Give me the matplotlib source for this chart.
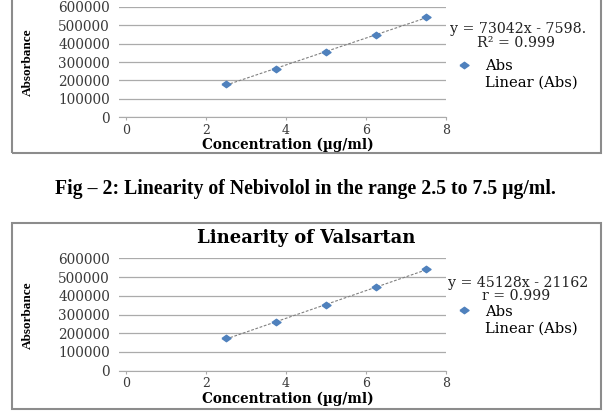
import numpy as np
import matplotlib
matplotlib.use("Agg")
import matplotlib.pyplot as plt
from matplotlib.patches import Rectangle
from matplotlib.lines import Line2D

# data
conc = [2.5, 3.75, 5.0, 6.25, 7.5]
abs_nebivolol = [179000, 262000, 354000, 448000, 542000]
abs_valsartan = [173000, 258000, 351000, 445000, 541000]
yticks = [0, 100000, 200000, 300000, 400000, 500000, 600000]
xticks = [0, 2, 4, 6, 8]

W, H = 610, 412
BLUE = "#4F81BD"
SERIF = "DejaVu Serif"

fig = plt.figure(figsize=(W / 100, H / 100), dpi=100)


def fx(px):
    return px / W


def fy(py):
    return 1 - py / H


# wide diamond like the stretched Excel marker
diamond = [(-1.4, 0), (0, 1), (1.4, 0), (0, -1), (-1.4, 0)]


def draw_chart(ax, y, eq1, eq2, eq_y, leg_y, leg_gap, xlabel_y, ylabel_y):
    ax.set_xlim(-0.175, 8)
    ax.set_ylim(0, 600000)
    ax.set_xticks(xticks)
    ax.set_yticks(yticks)
    ax.set_yticklabels([str(v) for v in yticks])
    ax.grid(axis="y", color="#ababab", lw=0.9)
    ax.set_axisbelow(True)
    for s in ["top", "right", "left"]:
        ax.spines[s].set_visible(False)
    ax.spines["bottom"].set_color("#ababab")
    ax.tick_params(axis="y", length=0, pad=6.5, labelsize=9.8, labelcolor="#3a3a3a")
    ax.tick_params(axis="x", length=2, color="#ababab", pad=2.8, labelsize=9,
                   labelcolor="#3a3a3a")
    for lab in ax.get_xticklabels() + ax.get_yticklabels():
        lab.set_fontfamily(SERIF)

    # linear trendline from a least squares fit
    m, b = np.polyfit(conc, y, 1)
    xs = np.array([conc[0], conc[-1]])
    ax.plot(xs, m * xs + b, color="#808080", lw=0.8, ls=(0, (2.5, 1.5)), zorder=2)
    sc, = ax.plot(conc, y, ls="none", marker=diamond, ms=6.5, color=BLUE,
                  mec=BLUE, zorder=3)

    fig.text(fx(518), fy(eq_y[0]), eq1, ha="center", va="center",
             family=SERIF, fontsize=10.2, color="#222222")
    fig.text(fx(516), fy(eq_y[1]), eq2, ha="center", va="center",
             family=SERIF, fontsize=10.2, color="#222222")

    blank = Line2D([], [], color="none")
    ax.legend([sc, blank], ["Abs", "Linear (Abs)"], loc="upper left",
              bbox_to_anchor=(fx(456), fy(leg_y)), bbox_transform=fig.transFigure,
              frameon=False, borderpad=0, borderaxespad=0, handlelength=1.1,
              handletextpad=0.9, labelspacing=leg_gap,
              prop={"family": SERIF, "size": 10.6})

    fig.text(fx(288), fy(xlabel_y), "Concentration (µg/ml)", ha="center",
             va="center", family=SERIF, fontweight="bold", fontsize=9.8)
    fig.text(fx(28), fy(ylabel_y), "Absorbance", ha="center", va="center",
             rotation=90, family="Liberation Serif", fontweight="bold", fontsize=9.5)


# top chart (Nebivolol)
ax1 = fig.add_axes([fx(119), fy(117.3), 327 / W, (117.3 - 6.7) / H])
draw_chart(ax1, abs_nebivolol, "y = 73042x - 7598.", "R² = 0.999",
           (29.3, 42.7), 59.5, 0.14, 144.5, 62)
fig.patches.append(Rectangle((fx(11.7), fy(153)), (601 - 11.7) / W, 170 / H,
                             transform=fig.transFigure, fill=False,
                             ec="#8c8c8c", lw=1.5))

fig.text(0.5, fy(189), "Fig – 2: Linearity of Nebivolol in the range 2.5 to 7.5 µg/ml.",
         ha="center", va="center", family="Liberation Serif", fontweight="bold",
         fontsize=14.2)

# bottom chart (Valsartan)
ax2 = fig.add_axes([fx(119), fy(370.7), 327 / W, (370.7 - 258.3) / H])
draw_chart(ax2, abs_valsartan, "y = 45128x - 21162", "r = 0.999",
           (283.0, 295.8), 304.5, 0.24, 398.5, 315)
fig.text(fx(306), fy(238.3), "Linearity of Valsartan", ha="center", va="center",
         family=SERIF, fontweight="bold", fontsize=13)
fig.patches.append(Rectangle((fx(11.7), fy(409)), (601 - 11.7) / W, (409 - 223.3) / H,
                             transform=fig.transFigure, fill=False,
                             ec="#8c8c8c", lw=1.5))

fig.savefig("out.png", dpi=100)
